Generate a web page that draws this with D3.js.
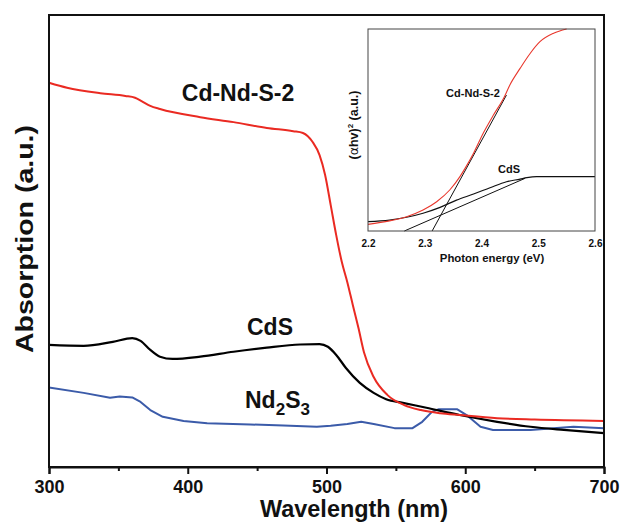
<!DOCTYPE html>
<html><head><meta charset="utf-8">
<script src="https://cdn.jsdelivr.net/npm/d3@7"></script>
<style>
html,body{margin:0;padding:0;background:#fff;}
svg text{font-family:"Liberation Sans",Arial,Helvetica,sans-serif;font-weight:bold;fill:#111;}
</style></head>
<body><svg id="c" width="622" height="532"></svg>
<script>
// ---- main chart data (wavelength nm, absorption a.u.) ----
const cdndsWl = [300,313,337,355,362,367,373,380,409,433,457,476,483,490,495,499,503,507,511,515,519,523,527,534,544,556,568,582,596,623,650,700];
const cdndsAbs = [0.850,0.839,0.827,0.821,0.817,0.809,0.799,0.792,0.774,0.763,0.750,0.743,0.739,0.719,0.690,0.646,0.580,0.513,0.454,0.409,0.358,0.308,0.254,0.199,0.159,0.137,0.126,0.119,0.115,0.108,0.105,0.102];
const cdsWl = [300,325,346,360,366,373,380,389,409,433,457,481,495,501,507,514,524,534,543,555,572,596,623,647,671,700];
const cdsAbs = [0.270,0.268,0.277,0.285,0.279,0.259,0.244,0.239,0.244,0.255,0.264,0.271,0.272,0.266,0.248,0.219,0.186,0.164,0.150,0.142,0.131,0.115,0.100,0.089,0.082,0.075];
const nd2s3Wl = [300,325,344,351,360,366,373,382,397,414,445,469,493,503,515,525,534,549,562,569,576,581,594,601,611,620,647,678,700];
const nd2s3Abs = [0.176,0.164,0.153,0.156,0.154,0.144,0.126,0.111,0.102,0.097,0.094,0.092,0.089,0.091,0.095,0.100,0.095,0.086,0.086,0.100,0.122,0.128,0.128,0.115,0.089,0.082,0.082,0.089,0.086];
const xMajorTicks = [300,400,500,600,700];
const xMinorTicks = [350,450,550,650];

// ---- inset data (photon energy eV, (ahv)^2 a.u.) ----
const insetRedE = [2.2,2.238,2.268,2.297,2.321,2.344,2.362,2.371,2.386,2.403,2.421,2.439,2.450,2.468,2.486,2.503,2.527,2.550];
const insetRedV = [0.033,0.050,0.071,0.104,0.145,0.203,0.269,0.310,0.385,0.484,0.574,0.657,0.723,0.805,0.880,0.937,0.979,1.0];
const insetCdsE = [2.2,2.238,2.268,2.297,2.327,2.356,2.386,2.415,2.444,2.468,2.480,2.497,2.6];
const insetCdsV = [0.046,0.054,0.068,0.088,0.117,0.153,0.183,0.214,0.244,0.257,0.264,0.269,0.269];
const tangentRedE = [2.313,2.444];
const tangentRedV = [0.0,0.673];
const tangentCdsE = [2.264,2.477];
const tangentCdsV = [0.0,0.261];
const insetTicks = [2.2,2.3,2.4,2.5,2.6];

const svg = d3.select("#c");
const zip = (a,b)=>a.map((v,i)=>[v,b[i]]);

// ---- main plot ----
const x = d3.scaleLinear().domain([300,700]).range([49,604]);
const y = d3.scaleLinear().domain([0,1]).range([467,15]);
const line = d3.line().x(d=>x(d[0])).y(d=>y(d[1]));
const smooth = d3.line().curve(d3.curveMonotoneX).x(d=>x(d[0])).y(d=>y(d[1]));

svg.append("path").datum(zip(nd2s3Wl,nd2s3Abs)).attr("d",line)
  .attr("fill","none").attr("stroke","#3b5ba9").attr("stroke-width",2).attr("stroke-linejoin","round");
svg.append("path").datum(zip(cdsWl,cdsAbs)).attr("d",smooth)
  .attr("fill","none").attr("stroke","#000").attr("stroke-width",2.2);
svg.append("path").datum(zip(cdndsWl,cdndsAbs)).attr("d",smooth)
  .attr("fill","none").attr("stroke","#ea2a22").attr("stroke-width",2);

// frame
svg.append("rect").attr("x",49).attr("y",15).attr("width",555).attr("height",452)
  .attr("fill","none").attr("stroke","#111").attr("stroke-width",2);

// x axis
const xAxis = d3.axisBottom(x).tickValues(xMajorTicks).tickSize(7).tickPadding(6).tickFormat(d3.format("d"));
const gx = svg.append("g").attr("transform","translate(0,467)").call(xAxis);
gx.select(".domain").attr("stroke","#111").attr("stroke-width",2);
gx.selectAll(".tick line").attr("stroke","#111").attr("stroke-width",2);
gx.selectAll(".tick text").attr("font-size",18).attr("font-family","'Liberation Sans',Arial,sans-serif").attr("font-weight","bold").attr("fill","#111").attr("dy","0.72em");
const gxm = svg.append("g").attr("transform","translate(0,467)")
  .call(d3.axisBottom(x).tickValues(xMinorTicks).tickSize(4).tickFormat(""));
gxm.select(".domain").remove();
gxm.selectAll(".tick line").attr("stroke","#111").attr("stroke-width",2);

// axis titles
svg.append("text").attr("x",354).attr("y",517).attr("text-anchor","middle").attr("font-size",23)
  .attr("textLength",188).attr("lengthAdjust","spacingAndGlyphs").text("Wavelength (nm)");
svg.append("text").attr("transform","translate(33,239) rotate(-90)").attr("text-anchor","middle").attr("font-size",23)
  .attr("textLength",228).attr("lengthAdjust","spacingAndGlyphs").text("Absorption (a.u.)");

// series labels
svg.append("text").attr("x",238).attr("y",101).attr("text-anchor","middle").attr("font-size",23).text("Cd-Nd-S-2");
svg.append("text").attr("x",270).attr("y",335).attr("text-anchor","middle").attr("font-size",23).text("CdS");
const nd = svg.append("text").attr("x",245).attr("y",408).attr("font-size",23);
nd.append("tspan").text("Nd");
nd.append("tspan").attr("font-size",17).attr("dy",7).text("2");
nd.append("tspan").attr("dy",-7).text("S");
nd.append("tspan").attr("font-size",17).attr("dy",7).text("3");

// ---- inset ----
const xi = d3.scaleLinear().domain([2.2,2.6]).range([368,595]);
const yi = d3.scaleLinear().domain([0,1]).range([231,29]);
const li = d3.line().curve(d3.curveMonotoneX).x(d=>xi(d[0])).y(d=>yi(d[1]));
const gi = svg.append("g");
gi.append("rect").attr("x",368).attr("y",29).attr("width",227).attr("height",202).attr("fill","#fff");
gi.append("path").datum(zip(insetCdsE,insetCdsV)).attr("d",li).attr("fill","none").attr("stroke","#111").attr("stroke-width",1.2);
gi.append("path").datum(zip(tangentCdsE,tangentCdsV)).attr("d",li).attr("fill","none").attr("stroke","#111").attr("stroke-width",1);
gi.append("path").datum(zip(tangentRedE,tangentRedV)).attr("d",li).attr("fill","none").attr("stroke","#111").attr("stroke-width",1);
gi.append("path").datum(zip(insetRedE,insetRedV)).attr("d",li).attr("fill","none").attr("stroke","#e8372c").attr("stroke-width",1.1);
gi.append("rect").attr("x",368).attr("y",29).attr("width",227).attr("height",202)
  .attr("fill","none").attr("stroke","#444").attr("stroke-width",1);
const gxi = gi.append("g").attr("transform","translate(0,231)")
  .call(d3.axisBottom(xi).tickValues(insetTicks).tickSize(0).tickPadding(9).tickFormat(d3.format(".1f")));
gxi.select(".domain").remove();
gxi.selectAll(".tick text").attr("font-size",10).attr("font-family","'Liberation Sans',Arial,sans-serif").attr("font-weight","bold").attr("fill","#222");
gi.append("text").attr("x",492).attr("y",262).attr("text-anchor","middle").attr("font-size",11.4).text("Photon energy (eV)");
const yl = gi.append("text").attr("transform","translate(358,125) rotate(-90)").attr("text-anchor","middle").attr("font-size",12.5);
yl.append("tspan").text("(");
yl.append("tspan").attr("font-family","'DejaVu Sans',sans-serif").attr("font-weight","normal").text("α");
yl.append("tspan").text("hv)");
yl.append("tspan").attr("font-size",8).attr("dy",-5).text("2");
yl.append("tspan").attr("dy",5).text("  (a.u.)");
gi.append("text").attr("x",473).attr("y",96.5).attr("text-anchor","middle").attr("font-size",11).text("Cd-Nd-S-2");
gi.append("text").attr("x",509).attr("y",173).attr("text-anchor","middle").attr("font-size",11).text("CdS");
</script></body></html>
